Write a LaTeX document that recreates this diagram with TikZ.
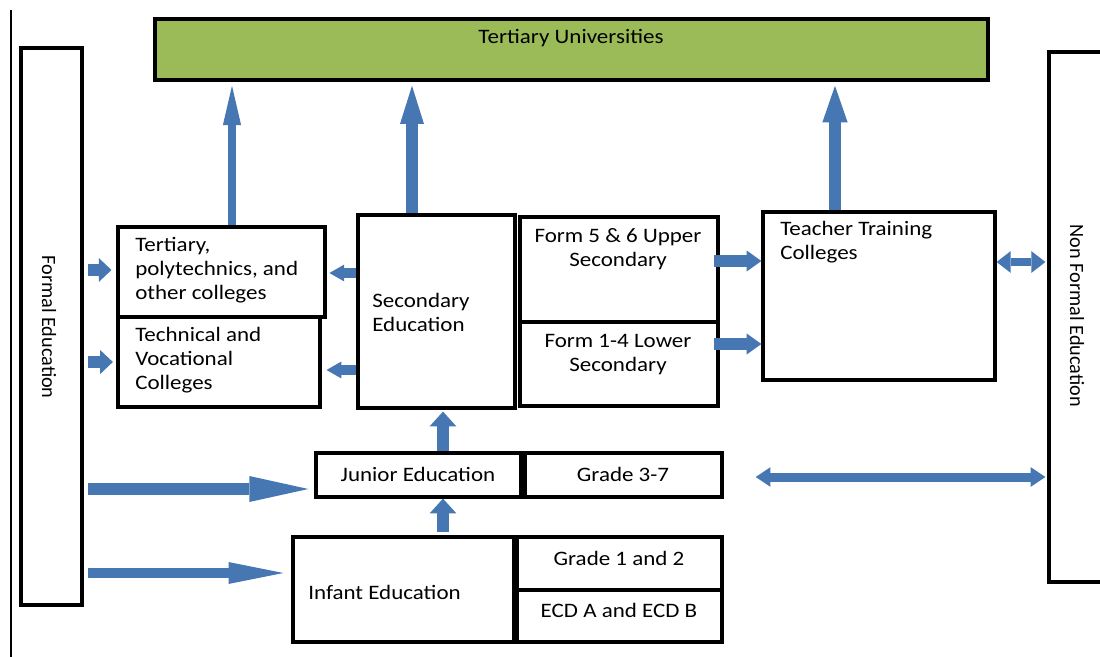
\documentclass[tikz,border=0pt]{standalone}
\usepackage{fontspec}
\setmainfont{Carlito}[FakeStretch=1.12]
\newfontfamily\sidefont{Carlito}
\usetikzlibrary{arrows.meta,fit}
\definecolor{unigreen}{HTML}{9BBB59}
\definecolor{flowblue}{HTML}{4677B2}
\tikzset{
  box/.style={draw, line width=2.3pt, inner sep=0pt},
  lbl/.style={inner sep=0pt, font=\fontsize{14.6}{17.1}\selectfont, align=#1},
  lbl/.default=left,
  flow/.style n args={3}{draw=flowblue, line width=#1,
    -{Triangle[length=#2, width=#3, line width=0pt]}},
  twoway/.style n args={3}{draw=flowblue, line width=#1,
    {Triangle[length=#2, width=#3, line width=0pt]}-{Triangle[length=#2, width=#3, line width=0pt]}},
}
\begin{document}
\begin{tikzpicture}[x=0.025cm, y=-0.025cm]
  \useasboundingbox (0,0) rectangle (1100,657);
  \draw[line width=1.5pt] (11,10) -- (11,657);
  % boxes
  \node[box, fill=unigreen, fit={(155,19) (988,80)}] (uni) {};
  \node[box, fit={(21,48) (82,605)}] (formal) {};
  \node[box, fit={(1049,52) (1125,582)}] (nonformal) {};
  \node[box, fit={(118,227) (325,317)}] (tert) {};
  \node[box, fit={(118,317) (320,407)}] (tech) {};
  \node[box, fit={(358,215) (515,408)}] (sec) {};
  \node[box, fit={(520,217) (718,322)}] (upper) {};
  \node[box, fit={(520,322) (718,406)}] (lower) {};
  \node[box, fit={(763,212) (995,380)}] (teach) {};
  \node[box, fit={(316,453) (521,497)}] (junior) {};
  \node[box, fit={(525,453) (722,497)}] (grade37) {};
  \node[box, fit={(293,537) (514,642)}] (infant) {};
  \node[box, fit={(517,537) (722,590)}] (grade12) {};
  \node[box, fit={(517,590) (722,642)}] (ecd) {};
  % texts
  \node[lbl=center] (unitxt) at (571,38) {Tertiary Universities};
  \node[lbl=center, rotate=-90, font=\sidefont\fontsize{14.4}{17}\selectfont] (formaltxt) at (49,327) {Formal Education};
  \node[lbl=center, rotate=-90, font=\sidefont\fontsize{14.4}{17}\selectfont] (nonformaltxt) at (1077,316) {Non Formal Education};
  \node[lbl, anchor=west] (terttxt) at (135,270) {Tertiary,\\polytechnics, and\\other colleges};
  \node[lbl, anchor=west] (techtxt) at (135,360) {Technical and\\Vocational\\Colleges};
  \node[lbl, anchor=west] (sectxt) at (372,312) {Secondary\\Education};
  \node[lbl=center] (uppertxt) at (618,249) {Form 5 \& 6 Upper\\Secondary};
  \node[lbl=center] (lowertxt) at (618,355) {Form 1-4 Lower\\Secondary};
  \node[lbl, anchor=west] (teachtxt) at (780,242) {Teacher Training\\Colleges};
  \node[lbl=center] (juniortxt) at (418,474) {Junior Education};
  \node[lbl=center] (grade37txt) at (623,474) {Grade 3-7};
  \node[lbl, anchor=west] (infanttxt) at (308,592) {Infant Education};
  \node[lbl=center] (grade12txt) at (619,558) {Grade 1 and 2};
  \node[lbl=center] (ecdtxt) at (619,610) {ECD A and ECD B};
  % arrows up to the universities
  \draw[flow={6pt}{28pt}{13pt}, shorten >=3pt] (232,0 |- tert.north) -- (232,0 |- uni.south);
  \draw[flow={8pt}{27pt}{17pt}, shorten >=3pt] (412,0 |- sec.north) -- (412,0 |- uni.south);
  \draw[flow={8.5pt}{26pt}{18pt}, shorten >=3pt] (835,0 |- teach.north) -- (835,0 |- uni.south);
  % from formal education
  \draw[flow={8.5pt}{9pt}{17pt}, shorten <=3pt, shorten >=3.5pt] (formal.east |- 0,270) -- (tert.west |- 0,270);
  \draw[flow={8.5pt}{9pt}{17pt}, shorten <=3pt, shorten >=2.5pt] (formal.east |- 0,362) -- (tech.west |- 0,362);
  \draw[flow={8.5pt}{42pt}{18.5pt}, shorten <=3pt, shorten >=4.3pt] (formal.east |- 0,489) -- (junior.west |- 0,489);
  \draw[flow={7.8pt}{39pt}{15.6pt}, shorten <=3pt, shorten >=5.7pt] (formal.east |- 0,573) -- (infant.west |- 0,573);
  % secondary to colleges
  \draw[flow={7pt}{10.5pt}{12pt}, shorten >=2pt] (sec.west |- 0,273) -- (tert.east |- 0,273);
  \draw[flow={7pt}{10.5pt}{12pt}, shorten >=3.5pt] (sec.west |- 0,370) -- (tech.east |- 0,370);
  % into teacher training
  \draw[flow={8.5pt}{10.5pt}{15pt}, shorten <=-4pt] (upper.east |- 0,261) -- (teach.west |- 0,261);
  \draw[flow={8.5pt}{10.5pt}{15pt}, shorten <=-4pt] (lower.east |- 0,344) -- (teach.west |- 0,344);
  % up the school levels
  \draw[flow={9pt}{10.5pt}{19pt}, shorten >=1.4pt] (443,0 |- junior.north) -- (443,0 |- sec.south);
  \draw[flow={9pt}{10.5pt}{19pt}, shorten <=2.5pt] (443,0 |- infant.north) -- (443,0 |- junior.south);
  % links with non formal education
  \draw[twoway={5.7pt}{10pt}{15.5pt}, shorten >=1.4pt] (teach.east |- 0,262) -- (nonformal.west |- 0,262);
  \draw[twoway={6.4pt}{10.5pt}{14pt}, shorten <=22.8pt, shorten >=1.4pt] (grade37.east |- 0,477) -- (nonformal.west |- 0,477);
\end{tikzpicture}
\end{document}
